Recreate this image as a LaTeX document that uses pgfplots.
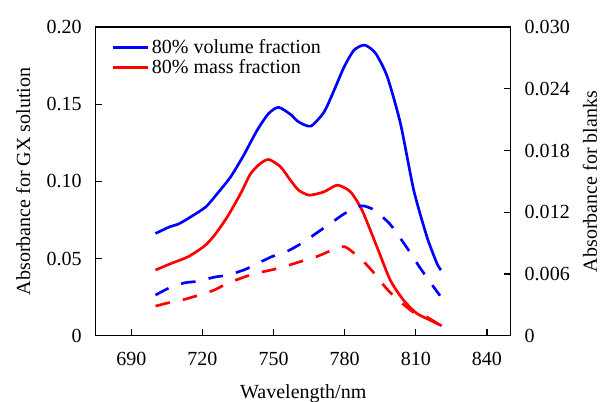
\documentclass[border=0pt]{standalone}
\usepackage{fontspec}
\setmainfont{Liberation Serif}
\usepackage{pgfplots}
\pgfplotsset{compat=1.18}
\definecolor{cblue}{RGB}{0,0,255}
\definecolor{cred}{RGB}{255,0,0}
\begin{document}
\begin{tikzpicture}
\pgfplotsset{
  common/.style={
    scale only axis, width=311pt, height=231.5pt,
    xmin=675, xmax=850,
    tick align=inside,
    major tick length=5pt,
    axis line style={line width=0.9pt},
    every tick/.style={line width=0.9pt, black},
    font=\fontsize{15pt}{18pt}\selectfont,
    tick label style={font=\fontsize{15pt}{18pt}\selectfont},
    label style={font=\fontsize{15pt}{18pt}\selectfont},
    /pgf/number format/assume math mode=true,
    scaled y ticks=false, scaled x ticks=false,
  }
}
\begin{axis}[common, name=main,
  ymin=0, ymax=0.20,
  xtick={690,720,750,780,810,840},
  xticklabels={690,720,750,780,810,840},
  xtick pos=bottom,
  ytick={0,0.05,0.10,0.15,0.20},
  yticklabels={0,0.05,0.10,0.15,0.20},
  ytick pos=left,
  yticklabel style={xshift=-7pt},
  xticklabel style={yshift=-9pt},
  xlabel={Wavelength/nm},
  ylabel={Absorbance for GX solution},
  xlabel style={at={(axis description cs:0.5,-0.188)}, anchor=center},
  ylabel style={at={(axis description cs:-0.175,0.5)}, anchor=center},
  legend style={draw=none, fill=none, at={(axis description cs:0.028,0.978)}, anchor=north west,
    font=\fontsize{15pt}{18pt}\selectfont, row sep=-1pt},
  legend cell align=left,
  legend image code/.code={\draw[#1, line width=2.2pt] (0pt,0pt) -- (26pt,0pt);},
]
\addplot[cblue, line width=2pt, smooth, tension=0.4] coordinates {
(700.2,0.0663) (706,0.0705) (710,0.0725) (715.1,0.0771) (721.4,0.0835) (726.3,0.0922)
(731.9,0.103) (737.4,0.117) (743,0.133) (747.9,0.144) (752.1,0.148) (757.3,0.1432)
(760.5,0.1386) (765.7,0.1358) (771.3,0.145) (775.5,0.159) (779.7,0.174) (783.9,0.185)
(788.4,0.1883) (793,0.183) (797.9,0.168) (803.5,0.1376) (809.1,0.0944) (814.7,0.064)
(818.9,0.0469) (820.6,0.0426)};
\addlegendentry{80\% volume fraction}
\addplot[cred, line width=2pt, smooth, tension=0.4] coordinates {
(700.2,0.0426) (707,0.0470) (713.9,0.0512) (720.7,0.0580) (724.9,0.0648) (730.5,0.0771)
(736.1,0.0922) (740.3,0.105) (744.5,0.1117) (748,0.1142) (752.9,0.1095) (757.1,0.1008)
(760.5,0.0944) (765,0.0911) (771.3,0.0933) (776.9,0.0976) (782.4,0.0933) (787.3,0.0814)
(793.6,0.0576) (799.2,0.0361) (804.8,0.0231) (810.4,0.0145) (816,0.0102) (820.9,0.0065)};
\addlegendentry{80\% mass fraction}
\end{axis}
\begin{axis}[common,
  ymin=0, ymax=0.030,
  axis x line=none,
  axis y line*=right,
  ytick={0,0.006,0.012,0.018,0.024,0.030},
  yticklabels={0,0.006,0.012,0.018,0.024,0.030},
  yticklabel style={xshift=7pt},
  ylabel={Absorbance for blanks},
  ylabel style={at={(axis description cs:1.191,0.5)}, anchor=center, rotate=0},
]
\addplot[cblue, line width=2pt, dash pattern=on 11pt off 10pt, smooth, tension=0.4] coordinates {
(700.2,0.00396) (705.5,0.0046) (712.4,0.00515) (718,0.0053) (725,0.0057) (730.5,0.0059)
(737.5,0.0064) (743,0.0070) (749.3,0.0077) (755.6,0.0082) (761.9,0.0090) (768.2,0.0100)
(774.5,0.0110) (780.1,0.0119) (787.1,0.01263) (792.6,0.0122) (798.9,0.0109) (803.1,0.0096)
(807.3,0.0082) (811.5,0.0067) (816.4,0.0051) (820.2,0.0039)};
\addplot[cred, line width=2pt, dash pattern=on 11pt off 10pt, smooth, tension=0.4] coordinates {
(700.2,0.00289) (706.2,0.00324) (712.4,0.00354) (718.6,0.00396) (724.9,0.00444) (730.5,0.0051)
(737.5,0.0057) (743,0.0061) (750,0.00645) (755.6,0.0068) (761.9,0.00726) (768.2,0.0077)
(774.5,0.0083) (780.1,0.00865) (787.1,0.0074) (792,0.0062) (797.6,0.0046) (802.5,0.0035)
(809.5,0.0022) (814.4,0.00185) (820.2,0.00104)};
\end{axis}
\pgfresetboundingbox
\path ([shift={(-71.8pt,-49pt)}]main.south west) rectangle ([shift={(67.7pt,20.25pt)}]main.north east);
\end{tikzpicture}
\end{document}
